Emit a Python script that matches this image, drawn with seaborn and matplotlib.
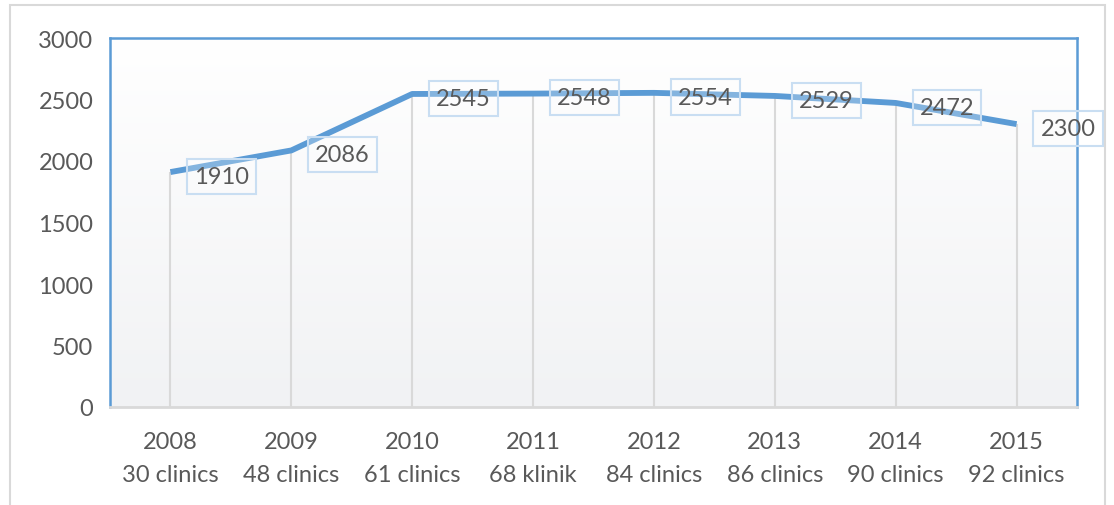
import numpy as np
import pandas as pd
import matplotlib
matplotlib.use('Agg')
import matplotlib.pyplot as plt
import seaborn as sns
from matplotlib.patches import Rectangle

# data
years = ['2008', '2009', '2010', '2011', '2012', '2013', '2014', '2015']
clinics = ['30 clinics', '48 clinics', '61 clinics', '68 klinik', '84 clinics',
           '86 clinics', '90 clinics', '92 clinics']
patients = [1910, 2086, 2545, 2548, 2554, 2529, 2472, 2300]
y_ticks = [0, 500, 1000, 1500, 2000, 2500, 3000]

df = pd.DataFrame({'pos': range(len(years)), 'patients': patients})

sns.set_style('white')
plt.rcParams['font.family'] = ['Lato', 'DejaVu Sans']

line_color = '#5b9bd5'
text_color = '#595959'

fig = plt.figure(figsize=(11.14, 5.06), dpi=100)
ax = fig.add_axes([110 / 1114, 1 - 408 / 506, 967 / 1114, 369 / 506])

# outer chart frame
fig.patches.append(Rectangle((10 / 1114, -0.01), 1095 / 1114, 1 - 6 / 506 + 0.01,
                             transform=fig.transFigure, fill=False,
                             edgecolor='#d9d9d9', lw=1.5, zorder=0))

# vertical gradient fill in the plot area
grad = np.linspace(0, 1, 256).reshape(-1, 1)
cmap = matplotlib.colors.LinearSegmentedColormap.from_list('bg', ['#ffffff', '#f1f2f4'])
ax.imshow(grad, aspect='auto', cmap=cmap, extent=(-0.5, 7.5, 0, 3000),
          origin='upper', zorder=0)

# drop lines
ax.vlines(df['pos'], 0, df['patients'], color='#d9d9d9', lw=1.5, zorder=1)

sns.lineplot(data=df, x='pos', y='patients', ax=ax, color=line_color, lw=4.2,
             solid_capstyle='butt', zorder=3)

for x, v in zip(df['pos'], df['patients']):
    ax.annotate(str(v), (x, v), xytext=(37, -3), textcoords='offset points',
                ha='center', va='center', fontsize=17, color=text_color, zorder=4,
                bbox=dict(boxstyle='square,pad=0.3', facecolor=(1, 1, 1, 0.25),
                          edgecolor='#c9def2', lw=1.5))

ax.set_xlim(-0.5, 7.5)
ax.set_ylim(0, 3000)
ax.set_yticks(y_ticks)
ax.set_yticklabels([str(t) for t in y_ticks])
ax.set_xticks(df['pos'])
ax.set_xticklabels([f'{y}\n{c}' for y, c in zip(years, clinics)], linespacing=1.7)
ax.tick_params(axis='both', length=0, labelsize=17, labelcolor=text_color)
ax.tick_params(axis='y', pad=12)
ax.tick_params(axis='x', pad=17)
ax.set_xlabel('')
ax.set_ylabel('')

for side in ['left', 'top', 'right']:
    ax.spines[side].set_color(line_color)
    ax.spines[side].set_linewidth(1.8)
ax.spines['bottom'].set_color('#d9d9d9')
ax.spines['bottom'].set_linewidth(2)

fig.savefig('out.png', dpi=100)
plt.close(fig)
